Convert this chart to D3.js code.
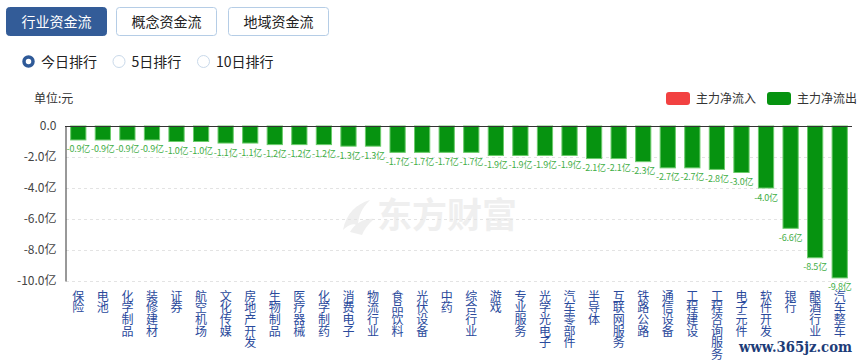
<!DOCTYPE html>
<html>
<head>
<meta charset="utf-8">
<script src="https://cdn.jsdelivr.net/npm/d3@7"></script>
<style>
  body { margin: 0; background: #fff; }
  svg { display: block; font-family: "Noto Sans CJK SC", "Noto Sans", sans-serif; }
</style>
</head>
<body>
<script>
  const categories = ['保险', '电池', '化学制品', '装修建材', '证券', '航空机场', '文化传媒', '房地产开发',
    '生物制品', '医疗器械', '化学制药', '消费电子', '物流行业', '食品饮料', '光伏设备', '中药',
    '综合行业', '游戏', '专业服务', '光学光电子', '汽车零部件', '半导体', '互联网服务', '铁路公路',
    '通信设备', '工程建设', '工程咨询服务', '电子元件', '软件开发', '银行', '酿酒行业', '汽车整车'];
  const netFlow = [-0.9, -0.9, -0.9, -0.9, -1.0, -1.0, -1.1, -1.1,
    -1.2, -1.2, -1.2, -1.3, -1.3, -1.7, -1.7, -1.7,
    -1.7, -1.9, -1.9, -1.9, -1.9, -2.1, -2.1, -2.3,
    -2.7, -2.7, -2.8, -3.0, -4.0, -6.6, -8.5, -9.8];
  const yTicks = [0, -2, -4, -6, -8, -10];
  const tabs = ['行业资金流', '概念资金流', '地域资金流'];
  const periods = ['今日排行', '5日排行', '10日排行'];
  const legendItems = ['主力净流入', '主力净流出'];

  const w = 861, h = 363;
  const plotLeft = 66, plotRight = 852, plotTop = 126, plotBottom = 281;

  const svg = d3.select('body').append('svg')
    .attr('width', w).attr('height', h);

  // tabs
  const tabX = [6, 116, 228];
  tabs.forEach((t, i) => {
    svg.append('rect')
      .attr('x', tabX[i] + 0.5).attr('y', 7.5)
      .attr('width', 100).attr('height', 28).attr('rx', 3)
      .attr('fill', i === 0 ? '#335c98' : '#fff')
      .attr('stroke', i === 0 ? '#335c98' : '#b5cde6');
    svg.append('text')
      .attr('x', tabX[i] + 50.5).attr('y', 26.5)
      .attr('text-anchor', 'middle')
      .attr('font-size', 14)
      .attr('fill', i === 0 ? '#fff' : '#222')
      .text(t);
  });

  // radio buttons
  const radioX = [28.5, 119, 203.5];
  periods.forEach((p, i) => {
    svg.append('circle')
      .attr('cx', radioX[i]).attr('cy', 61.5).attr('r', i === 0 ? 4.5 : 6)
      .attr('fill', '#fff')
      .attr('stroke', i === 0 ? '#2f5a98' : '#c9d9ea')
      .attr('stroke-width', i === 0 ? 3.5 : 1);
    svg.append('text')
      .attr('x', radioX[i] + 12.5).attr('y', 66.5)
      .attr('font-size', 14).attr('fill', '#222')
      .text(p);
  });

  svg.append('text')
    .attr('x', 34).attr('y', 103)
    .attr('font-size', 12).attr('fill', '#333')
    .text('单位:元');

  // legend
  const legendColors = ['#f24141', '#069310'];
  const legendX = [666, 767];
  legendItems.forEach((t, i) => {
    svg.append('rect')
      .attr('x', legendX[i]).attr('y', 92)
      .attr('width', 24).attr('height', 13).attr('rx', 3)
      .attr('fill', legendColors[i]);
    svg.append('text')
      .attr('x', legendX[i] + 30).attr('y', 102.5)
      .attr('font-size', 12).attr('fill', '#333')
      .text(t);
  });

  // watermark
  const wm = svg.append('g').attr('fill', '#efefef');
  wm.append('path')
    .attr('d', 'M343,230 C346,214 356,204 370,200 C362,208 358,216 358,226 C353,222 348,225 343,230 Z M350,232 C356,222 366,218 374,219 C368,224 364,230 362,235 Z');
  wm.append('text')
    .attr('x', 377).attr('y', 228)
    .attr('font-size', 35).attr('font-weight', 'bold')
    .text('东方财富');

  const x = d3.scaleBand().domain(categories).range([plotLeft, plotRight]).paddingInner(0.38).paddingOuter(0.19);
  const y = d3.scaleLinear().domain([0, -10]).range([plotTop, plotBottom]);

  // grid
  svg.append('g')
    .selectAll('line')
    .data(yTicks.filter(d => d !== 0))
    .join('line')
    .attr('x1', plotLeft).attr('x2', plotRight)
    .attr('y1', d => Math.round(y(d)) + 0.5).attr('y2', d => Math.round(y(d)) + 0.5)
    .attr('stroke', '#e3e3e3')
    .attr('stroke-dasharray', '3,3');

  const yAxis = d3.axisLeft(y).tickValues(yTicks).tickSize(0).tickPadding(9)
    .tickFormat(d => d === 0 ? '0.0' : d.toFixed(1) + '亿');
  const gy = svg.append('g')
    .attr('transform', `translate(${plotLeft - 0.5},0)`)
    .call(yAxis);
  gy.select('.domain').attr('stroke', '#333');
  gy.selectAll('.tick text').attr('font-size', 12).attr('fill', '#444')
    .attr('font-family', '"Noto Sans CJK SC", sans-serif');

  // bars
  svg.append('g')
    .selectAll('rect')
    .data(netFlow)
    .join('rect')
    .attr('x', (d, i) => x(categories[i]))
    .attr('y', y(0))
    .attr('width', x.bandwidth())
    .attr('height', d => y(d) - y(0))
    .attr('fill', '#069310')
    .attr('stroke', '#6bcb6b')
    .attr('stroke-width', 1);

  // x axis line at zero
  svg.append('line')
    .attr('x1', plotLeft - 1).attr('x2', plotRight)
    .attr('y1', y(0) + 0.5).attr('y2', y(0) + 0.5)
    .attr('stroke', '#333');

  // value labels
  svg.append('g')
    .selectAll('text')
    .data(netFlow)
    .join('text')
    .attr('x', (d, i) => x(categories[i]) + x.bandwidth() / 2)
    .attr('y', d => y(d) + 12.5)
    .attr('text-anchor', 'middle')
    .attr('font-size', 9)
    .attr('letter-spacing', -0.2)
    .attr('fill', '#3fae46')
    .text(d => d.toFixed(1) + '亿');

  // category labels, vertical
  svg.append('g')
    .selectAll('text')
    .data(categories)
    .join('text')
    .attr('x', d => x(d) + x.bandwidth() / 2)
    .attr('y', 290)
    .attr('writing-mode', 'tb')
    .style('writing-mode', 'vertical-rl')
    .style('text-orientation', 'upright')
    .attr('letter-spacing', -0.3)
    .attr('font-size', 12)
    .attr('fill', '#2a4a9c')
    .text(d => d);

  svg.append('text')
    .attr('x', 739).attr('y', 351.5)
    .attr('font-family', '"DejaVu Serif", "Liberation Serif", serif')
    .attr('font-weight', 'bold')
    .attr('font-size', 14)
    .attr('textLength', 113)
    .attr('lengthAdjust', 'spacingAndGlyphs')
    .attr('fill', '#1d3c78')
    .text('www.365jz.com');
</script>
</body>
</html>
